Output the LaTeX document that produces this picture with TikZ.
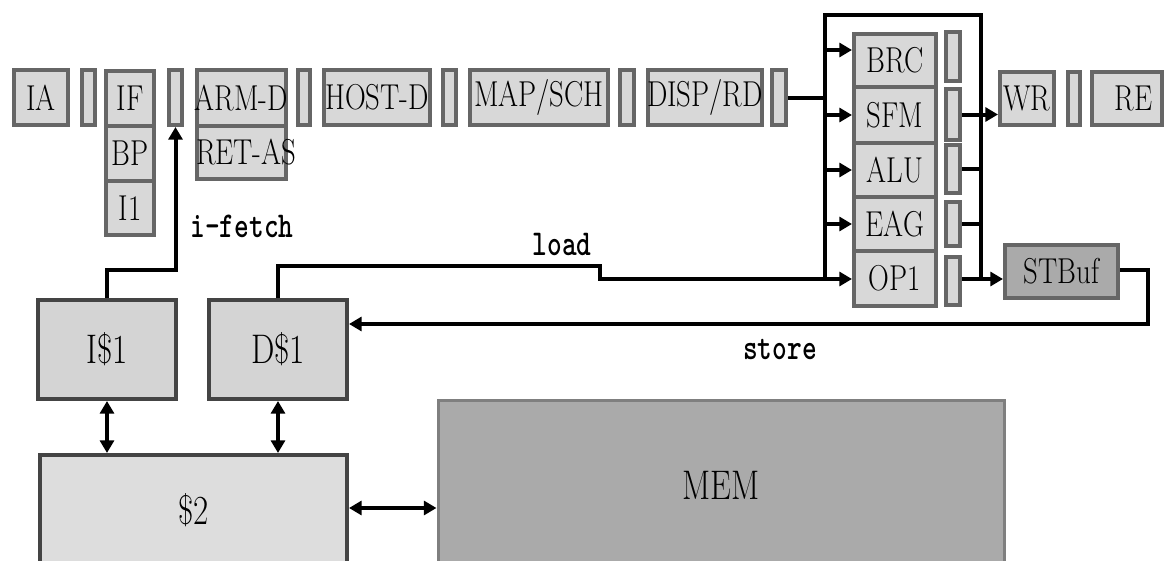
\documentclass[tikz,border=0pt]{standalone}
\usepackage{graphicx}
\usetikzlibrary{arrows.meta}
\definecolor{pfill}{HTML}{D8D8D8}
\definecolor{pbord}{HTML}{666666}
\definecolor{cfill}{HTML}{D4D4D4}
\definecolor{lfill}{HTML}{DDDDDD}
\definecolor{cbord}{HTML}{444444}
\definecolor{mfill}{HTML}{AAAAAA}
\definecolor{mbord}{HTML}{7F7F7F}
\newcommand{\bt}[2][0pt]{\makebox[0pt]{\hspace*{#1}\scalebox{0.8}[1]{#2}}}
\newcommand{\lt}[1]{\scalebox{1}[1.3]{#1}}
\begin{document}
\begin{tikzpicture}[x=0.75pt,y=-0.75pt,
  sz/.style 2 args={minimum width=#1*0.75pt, minimum height=#2*0.75pt},
  pbox/.style={draw=pbord, fill=pfill, line width=3pt, inner sep=0pt, font=\fontsize{27}{27}\selectfont},
  rbox/.style={pbox},
  cbox/.style={draw=cbord, fill=cfill, line width=3pt, inner sep=0pt, font=\fontsize{31}{31}\selectfont},
  conn/.style={line width=3pt, draw=black},
  arr/.style={conn, -{Triangle[length=9.5pt,width=10.5pt]}},
  darr/.style={conn, {Triangle[length=9.5pt,width=10.5pt]}-{Triangle[length=9.5pt,width=10.5pt]}},
  lab/.style={font=\ttfamily\bfseries\fontsize{21}{21}\selectfont, inner sep=0pt}]
\useasboundingbox (0,0) rectangle (1166,560);
\clip (0,0) rectangle (1166,560);
% pipeline front end
\node[pbox,sz={54}{55}] (IA) at (41,97.5) {\bt{IA}};
\node[rbox,sz={13}{55}] (r1) at (88.5,97.5) {};
\node[pbox,sz={48}{55}] (IF) at (130,98.5) {\bt{IF}};
\node[pbox,sz={48}{55}] (BP) at (130,153.5) {\bt{BP}};
\node[pbox,sz={48}{54}] (I1) at (130,208) {\bt{I1}};
\node[rbox,sz={13}{55}] (r2) at (175.5,97.5) {};
\node[pbox,sz={89}{56}] (ARMD) at (241.5,98) {\bt{ARM-D}};
\node[pbox,sz={89}{53}] (RETAS) at (241.5,152.5) {\bt[7pt]{RET-AS}};
\node[rbox,sz={12}{55}] (r3) at (304,97.5) {};
\node[pbox,sz={106}{55}] (HOSTD) at (377,97.5) {\bt{HOST-D}};
\node[rbox,sz={13}{55}] (r4) at (449.5,97.5) {};
\node[pbox,sz={138}{55}] (MAPSCH) at (539,97.5) {\bt{MAP/SCH}};
\node[rbox,sz={14}{55}] (r5) at (627,97.5) {};
\node[pbox,sz={114}{55}] (DISPRD) at (705,97.5) {\bt{DISP/RD}};
\node[rbox,sz={14}{55}] (r6) at (779,97.5) {};
% execution units
\node[pbox,sz={82}{53}] (BRC) at (895,60.5) {\bt{BRC}};
\node[pbox,sz={82}{56}] (SFM) at (895,115) {\bt{SFM}};
\node[pbox,sz={82}{54}] (ALU) at (895,170) {\bt{ALU}};
\node[pbox,sz={82}{54}] (EAG) at (895,224) {\bt{EAG}};
\node[pbox,sz={82}{55}] (OP1) at (895,278.5) {\bt{OP1}};
\node[rbox,sz={14}{49}] (rb) at (953,56.5) {};
\node[rbox,sz={14}{51}] (rs) at (953,114.5) {};
\node[rbox,sz={14}{48}] (ra) at (953,169) {};
\node[rbox,sz={14}{44}] (re) at (953,224) {};
\node[rbox,sz={14}{48}] (ro) at (953,281) {};
% back end
\node[pbox,sz={54}{53}] (WR) at (1027,98.5) {\bt{WR}};
\node[rbox,sz={12}{53}] (r7) at (1074,98.5) {};
\node[pbox,sz={70}{53}] (RE) at (1127,98.5) {\bt[10pt]{RE}};
\node[pbox,fill=mfill,sz={113}{53}] (STB) at (1061.5,271.5) {\bt{STBuf}};
% memory hierarchy
\node[cbox,sz={138}{99}] (Ic) at (107,349.5) {\bt{I\$1}};
\node[cbox,sz={138}{99}] (Dc) at (278,349.5) {\bt{D\$1}};
\node[cbox,fill=lfill,sz={307}{110}] (Lc) at (193.5,510) {\bt{\$2}};
\node[cbox,draw=mbord,fill=mfill,line width=2.25pt,sz={566}{170}] (MEM) at (721,485) {\bt{MEM}};
% bus
\coordinate (LT) at (825,15);
\coordinate (RT) at (981,15);
\coordinate (LB) at (825,279);
\coordinate (RB) at (981,279);
\coordinate (SC) at (1148,324);
\draw[conn] (LB) -- (LT) -- (RT) -- (RB);
\draw[conn] (r6.east) -- (r6.east -| LT);
\draw[arr] (LT |- 0,50) -- (BRC.west |- 0,50);
\draw[arr] (LT |- SFM.west) -- (SFM.west);
\draw[arr] (LT |- ALU.west) -- (ALU.west);
\draw[arr] (LT |- EAG.west) -- (EAG.west);
\draw[arr] (Dc.north) |- (600,266) |- (OP1.west |- LB);
\draw[arr] (rs.east) -- (rs.east -| WR.west);
\draw[conn] (ra.east) -- (ra.east -| RT);
\draw[conn] (re.east) -- (re.east -| RT);
\draw[arr] (ro.east |- RB) -- (STB.west |- RB);
\draw[arr] (STB.east |- 0,270) -| (SC) -- (Dc.east |- SC);
\draw[arr] (Ic.north) |- (r2.south |- 0,270) -- (r2.south);
\draw[darr] (Ic.south) -- (Ic.south |- Lc.north);
\draw[darr] (Dc.south) -- (Dc.south |- Lc.north);
\draw[darr] (Lc.east |- 0,508) -- (MEM.west |- 0,508);
% labels
\node[lab] (tif) at (242,226) {\lt{i-fetch}};
\node[lab] (tld) at (562,244) {\lt{load}};
\node[lab] (tst) at (780,350) {\lt{store}};
\end{tikzpicture}
\end{document}
